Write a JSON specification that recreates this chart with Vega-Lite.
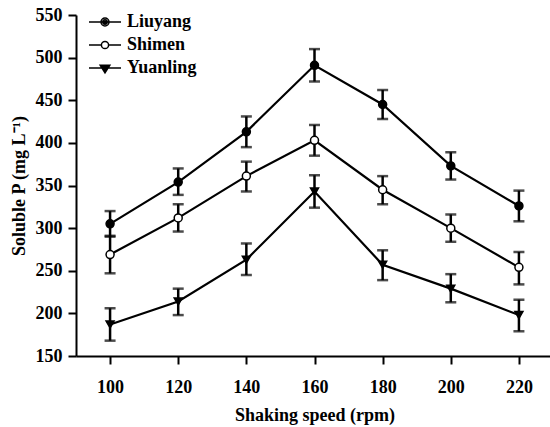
{
  "$schema": "https://vega.github.io/schema/vega-lite/v6.json",
  "width": 477,
  "height": 341,
  "autosize": {"type": "none"},
  "padding": {"left": 76, "top": 15, "right": 0, "bottom": 71},
  "background": "white",
  "config": {
    "view": {"stroke": null},
    "font": "Liberation Serif",
    "axis": {
      "domainColor": "black", "domainWidth": 2, "tickColor": "black", "tickWidth": 2, "tickSize": 8,
      "grid": false, "labelFont": "Liberation Serif", "labelFontSize": 18, "labelFontWeight": "bold", "labelColor": "black",
      "titleFont": "Liberation Serif", "titleFontSize": 18, "titleFontWeight": "bold", "titleColor": "black"
    },
    "legend": {"labelFont": "Liberation Serif", "labelFontSize": 18, "labelFontWeight": "bold", "labelColor": "black"}
  },
  "data": {"values": [
    {"site": "Liuyang", "speed": 100, "p": 305, "lo": 290, "hi": 320},
    {"site": "Liuyang", "speed": 120, "p": 354, "lo": 339, "hi": 370},
    {"site": "Liuyang", "speed": 140, "p": 413, "lo": 395, "hi": 431},
    {"site": "Liuyang", "speed": 160, "p": 491, "lo": 472, "hi": 510},
    {"site": "Liuyang", "speed": 180, "p": 445, "lo": 428, "hi": 462},
    {"site": "Liuyang", "speed": 200, "p": 373, "lo": 357, "hi": 389},
    {"site": "Liuyang", "speed": 220, "p": 326, "lo": 308, "hi": 344},
    {"site": "Shimen", "speed": 100, "p": 269, "lo": 247, "hi": 291},
    {"site": "Shimen", "speed": 120, "p": 312, "lo": 296, "hi": 328},
    {"site": "Shimen", "speed": 140, "p": 361, "lo": 343, "hi": 378},
    {"site": "Shimen", "speed": 160, "p": 403, "lo": 385, "hi": 421},
    {"site": "Shimen", "speed": 180, "p": 345, "lo": 328, "hi": 361},
    {"site": "Shimen", "speed": 200, "p": 300, "lo": 284, "hi": 316},
    {"site": "Shimen", "speed": 220, "p": 254, "lo": 234, "hi": 272},
    {"site": "Yuanling", "speed": 100, "p": 187, "lo": 168, "hi": 206},
    {"site": "Yuanling", "speed": 120, "p": 214, "lo": 198, "hi": 229},
    {"site": "Yuanling", "speed": 140, "p": 263, "lo": 245, "hi": 282},
    {"site": "Yuanling", "speed": 160, "p": 343, "lo": 324, "hi": 362},
    {"site": "Yuanling", "speed": 180, "p": 257, "lo": 239, "hi": 274},
    {"site": "Yuanling", "speed": 200, "p": 229, "lo": 213, "hi": 246},
    {"site": "Yuanling", "speed": 220, "p": 198, "lo": 179, "hi": 216}
  ]},
  "encoding": {
    "x": {"field": "speed", "type": "quantitative",
      "scale": {"domain": [90, 230], "nice": false, "zero": false},
      "axis": {"values": [100, 120, 140, 160, 180, 200, 220], "title": "Shaking speed (rpm)", "labelPadding": 14, "titlePadding": 10}}
  },
  "layer": [
    {"mark": {"type": "line", "color": "black", "strokeWidth": 2.2},
     "encoding": {
       "y": {"field": "p", "type": "quantitative",
         "scale": {"domain": [150, 550], "nice": false, "zero": false},
         "axis": {"values": [150, 200, 250, 300, 350, 400, 450, 500, 550], "title": "Soluble P (mg L⁻¹)", "labelPadding": 6, "titlePadding": 7}},
       "detail": {"field": "site"}}},
    {"mark": {"type": "rule", "color": "black", "strokeWidth": 2.5},
     "encoding": {"y": {"field": "lo", "type": "quantitative"}, "y2": {"field": "hi"}}},
    {"mark": {"type": "tick", "orient": "horizontal", "color": "black", "size": 11, "thickness": 2.5},
     "encoding": {"y": {"field": "lo", "type": "quantitative"}}},
    {"mark": {"type": "tick", "orient": "horizontal", "color": "black", "size": 11, "thickness": 2.5},
     "encoding": {"y": {"field": "hi", "type": "quantitative"}}},
    {"mark": {"type": "point", "stroke": "black", "strokeWidth": 1.5, "size": 64, "opacity": 1},
     "encoding": {
       "y": {"field": "p", "type": "quantitative"},
       "shape": {"field": "site", "type": "nominal", "scale": {"domain": ["Liuyang", "Shimen", "Yuanling"], "range": ["circle", "circle", "triangle-down"]}, "legend": null},
       "fill": {"field": "site", "type": "nominal", "scale": {"domain": ["Liuyang", "Shimen", "Yuanling"], "range": ["black", "white", "black"]}, "legend": null}}},
    {"mark": {"type": "point", "stroke": "black", "strokeWidth": 2, "size": 64, "opacity": 0},
     "encoding": {
       "y": {"field": "p", "type": "quantitative"},
       "shape": {"field": "site", "type": "nominal",
         "scale": {"domain": ["Liuyang", "Shimen", "Yuanling"],
           "range": [
             "M-4,0H4M1,0A1,1,0,1,1,-1,0A1,1,0,1,1,1,0ZM0.55,0A0.55,0.55,0,1,1,-0.55,0A0.55,0.55,0,1,1,0.55,0ZM0.2,0A0.2,0.2,0,1,1,-0.2,0A0.2,0.2,0,1,1,0.2,0Z",
             "M-4,0H-0.9M0.9,0H4M0.9,0A0.9,0.9,0,1,1,-0.9,0A0.9,0.9,0,1,1,0.9,0Z",
             "M-4,0H4M-1.2,-0.7L1.2,-0.7L0,1.2ZM-0.6,-0.38L0.6,-0.38L0,0.57ZM-0.24,-0.19L0.24,-0.19L0,0.19Z"]},
         "legend": {"title": null, "orient": "none", "legendX": 20, "legendY": -2, "symbolSize": 64, "labelOffset": 13, "rowPadding": 5, "padding": 0, "symbolOffset": 0,
           "encode": {"symbols": {"update": {"stroke": {"value": "black"}, "strokeWidth": {"value": 2}, "strokeOpacity": {"value": 1}, "fillOpacity": {"value": 1}, "opacity": {"value": 1}}}}}}}}
  ],
  "resolve": {"scale": {"shape": "independent"}}
}
